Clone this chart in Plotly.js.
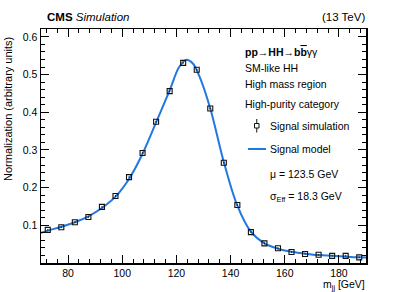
<!DOCTYPE html>
<html>
<head>
<meta charset="utf-8">
<script src="https://cdn.plot.ly/plotly-3.0.1.min.js"></script>
<style>html,body{margin:0;padding:0;background:#fff;}#chart{width:407px;height:292px;}</style>
</head>
<body>
<div id="chart"></div>
<script>
// Signal simulation (bin centres, normalized yields)
const simMass = [72.5, 77.5, 82.5, 87.5, 92.5, 97.5, 102.5, 107.5, 112.5, 117.5, 122.5, 127.5,
                 132.5, 137.5, 142.5, 147.5, 152.5, 157.5, 162.5, 167.5, 172.5, 177.5, 182.5, 187.5];
const simNorm = [0.088, 0.095, 0.108, 0.122, 0.149, 0.178, 0.228, 0.292, 0.375, 0.456, 0.531, 0.513,
                 0.410, 0.266, 0.154, 0.082, 0.052, 0.039, 0.029, 0.024, 0.022, 0.019, 0.019, 0.015];
const simErr  = [0.002, 0.002, 0.002, 0.002, 0.002, 0.002, 0.002, 0.002, 0.002, 0.002, 0.002, 0.002,
                 0.002, 0.002, 0.002, 0.002, 0.002, 0.002, 0.002, 0.002, 0.002, 0.002, 0.002, 0.002];
// Signal model curve
const modelMass = [70, 72.5, 77.5, 82.5, 87.5, 92.5, 97.5, 102.5, 107.5, 112.5, 117.5, 121, 123.5, 126,
                   128.5, 132.5, 137.5, 142.5, 147.5, 152.5, 157.5, 162.5, 167.5, 172.5, 177.5, 182.5, 187.5, 190];
const modelNorm = [0.080, 0.086, 0.096, 0.108, 0.124, 0.146, 0.176, 0.223, 0.290, 0.373, 0.458, 0.520, 0.539, 0.530,
                   0.495, 0.410, 0.268, 0.152, 0.083, 0.052, 0.038, 0.030, 0.025, 0.021, 0.019, 0.017, 0.015, 0.0145];
const xTicks = [80, 100, 120, 140, 160, 180];
const yTicks = [0.1, 0.2, 0.3, 0.4, 0.5, 0.6];
const yTickText = ['0.1', '0.2', '0.3', '0.4', '0.5', '0.6'];

const FONT = 'Liberation Sans, Arial, Helvetica, sans-serif';
const BLUE = '#2277e0';
const L = 41, R = 366, T = 29, B = 263;
const px = v => (v - L) / (R - L);
const py = v => (B - v) / (B - T);

const traces = [
  {
    x: modelMass, y: modelNorm, type: 'scatter', mode: 'lines',
    line: {color: BLUE, width: 2, shape: 'spline', smoothing: 1},
    name: 'Signal model', showlegend: false, hoverinfo: 'skip'
  },
  {
    x: simMass, y: simNorm, type: 'scatter', mode: 'markers',
    marker: {symbol: 'square-open', size: 5, color: '#111', line: {width: 1.1, color: '#111'}},
    error_y: {type: 'data', array: simErr, visible: true, thickness: 1, width: 0, color: '#111'},
    name: 'Signal simulation', showlegend: false
  }
];

const ann = (x, y, text, extra) => Object.assign({
  xref: 'paper', yref: 'paper', x: px(x), y: py(y), text: text, showarrow: false,
  xanchor: 'left', yanchor: 'middle', font: {family: FONT, size: 10.5, color: '#000'}
}, extra || {});

const layout = {
  width: 407, height: 292,
  margin: {l: L, r: 407 - R, t: T, b: 292 - B, pad: 0},
  paper_bgcolor: '#fff', plot_bgcolor: '#fff',
  font: {family: FONT, size: 10, color: '#000'},
  showlegend: false,
  xaxis: {
    range: [70, 190], tickvals: xTicks, ticks: 'inside', ticklen: 8, tickwidth: 1, tickcolor: '#000',
    minor: {dtick: 4, tick0: 0, ticks: 'inside', ticklen: 4, tickwidth: 1, tickcolor: '#000', showgrid: false},
    showgrid: false, zeroline: false, showline: true, linecolor: '#000', linewidth: 1.5, mirror: 'ticks',
    tickfont: {family: FONT, size: 10.5, color: '#000'}
  },
  yaxis: {
    range: [0, 0.621], tickvals: yTicks, ticktext: yTickText, ticks: 'inside', ticklen: 8, tickwidth: 1, tickcolor: '#000',
    minor: {dtick: 0.02, tick0: 0, ticks: 'inside', ticklen: 4, tickwidth: 1, tickcolor: '#000', showgrid: false},
    showgrid: false, zeroline: false, showline: true, linecolor: '#000', linewidth: 1.5, mirror: 'ticks',
    tickfont: {family: FONT, size: 10.5, color: '#000'}
  },
  annotations: [
    ann(45, 17, '<b>CMS</b> <i>Simulation</i>', {font: {family: FONT, size: 11.5, color: '#000'}}),
    ann(367, 17, '(13 TeV)', {xanchor: 'right', font: {family: FONT, size: 11.5, color: '#000'}}),
    ann(367, 285, 'm<sub>jj</sub> [GeV]', {xanchor: 'right', font: {family: FONT, size: 10.5, color: '#000'}}),
    {xref: 'paper', yref: 'paper', x: px(8), y: py(109), text: 'Normalization (arbitrary units)', textangle: -90,
     showarrow: false, xanchor: 'center', yanchor: 'middle', font: {family: FONT, size: 11, color: '#000'}},
    ann(243, 52, '<b>pp\u2192HH\u2192b<span style="text-decoration:overline">b</span></b>\u03b3\u03b3'),
    ann(243, 68, 'SM-like HH'),
    ann(243, 84, 'High mass region'),
    ann(243, 104, 'High-purity category'),
    ann(268, 126, 'Signal simulation'),
    ann(268, 149, 'Signal model'),
    ann(268, 174, 'μ = 123.5 GeV'),
    ann(268, 197, 'σ<sub>Eff</sub> = 18.3 GeV')
  ],
  shapes: [
    {type: 'line', xref: 'paper', yref: 'paper', x0: px(248), x1: px(266), y0: py(149), y1: py(149),
     line: {color: BLUE, width: 2}},
    {type: 'rect', xref: 'paper', yref: 'paper', x0: px(254.5), x1: px(259), y0: py(123.5), y1: py(128),
     line: {color: '#111', width: 1}},
    {type: 'line', xref: 'paper', yref: 'paper', x0: px(256.75), x1: px(256.75), y0: py(119), y1: py(123.5),
     line: {color: '#111', width: 1}},
    {type: 'line', xref: 'paper', yref: 'paper', x0: px(256.75), x1: px(256.75), y0: py(128), y1: py(132.5),
     line: {color: '#111', width: 1}}
  ]
};

Plotly.newPlot('chart', traces, layout, {staticPlot: true, displayModeBar: false});
</script>
</body>
</html>
